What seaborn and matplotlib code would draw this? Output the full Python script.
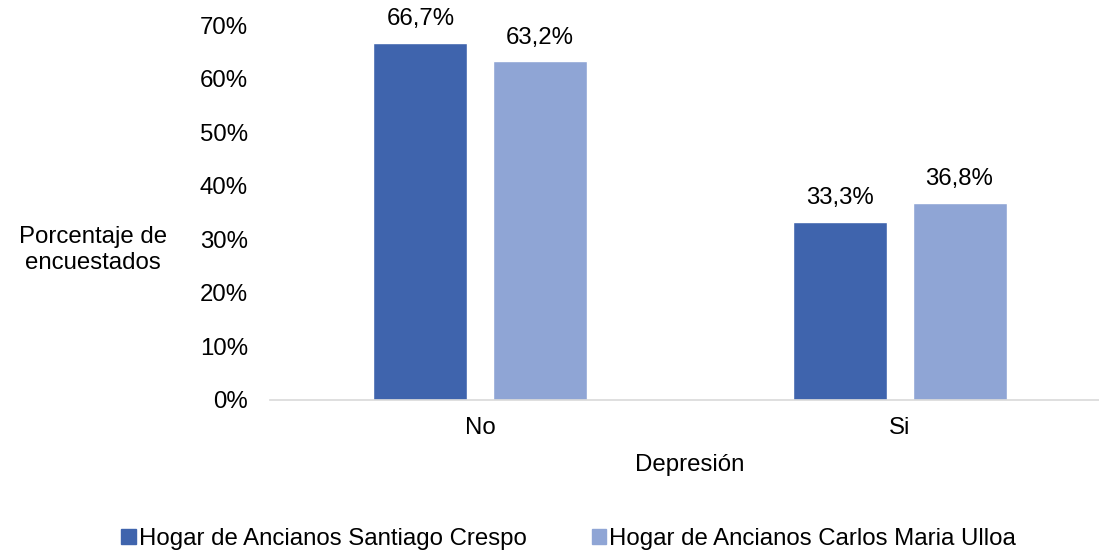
import pandas as pd
import matplotlib
matplotlib.use('Agg')
import matplotlib.pyplot as plt
import seaborn as sns
from matplotlib.patches import Patch

categories = ['No', 'Si']
hogares = ['Hogar de Ancianos Santiago Crespo', 'Hogar de Ancianos Carlos Maria Ulloa']
santiago = [66.7, 33.3]
carlos = [63.2, 36.8]
colors = ['#3F64AD', '#8FA5D5']

df = pd.DataFrame({
    'depresion': categories * 2,
    'hogar': [hogares[0]] * 2 + [hogares[1]] * 2,
    'pct': santiago + carlos,
})

sns.set_style('white')
plt.rcParams['font.family'] = ['Liberation Sans', 'DejaVu Sans']
plt.rcParams['text.color'] = 'black'
fs = 17.3

fig = plt.figure(figsize=(10.99, 5.52), dpi=100)
ax = fig.add_axes([270 / 1099, 152 / 552, 840 / 1099, 375 / 552])

sns.barplot(data=df, x='depresion', y='pct', hue='hogar', order=categories,
            hue_order=hogares, palette=colors, width=0.567, gap=0.21,
            saturation=1, ax=ax, legend=False)

for cont in ax.containers:
    ax.bar_label(cont, labels=[f'{v:.1f}%'.replace('.', ',') for v in cont.datavalues],
                 padding=9, fontsize=fs, color='black')

ax.set_ylim(0, 70)
ax.set_xlim(-0.5, 1.5)
ax.set_yticks(range(0, 71, 10))
ax.set_yticklabels([f'{v}%' for v in range(0, 71, 10)])
ax.tick_params(axis='x', labelsize=fs, pad=12, length=0, labelcolor='black')
ax.tick_params(axis='y', labelsize=fs, length=0, pad=16, labelcolor='black')
for s in ['top', 'right', 'left']:
    ax.spines[s].set_visible(False)
ax.spines['bottom'].set_color('#d9d9d9')
ax.spines['bottom'].set_linewidth(1.2)

ax.set_xlabel('Depresión', fontsize=fs, color='black')
ax.xaxis.set_label_coords((690 - 270) / 840, -0.145)
ax.set_ylabel('')
fig.text(93 / 1099, 1 - 250 / 552, 'Porcentaje de\nencuestados', fontsize=fs,
         ha='center', va='center', linespacing=1.2)

handles = [Patch(color=c, label=h) for c, h in zip(colors, hogares)]
fig.legend(handles=handles, loc='center left', bbox_to_anchor=(121 / 1099, 1 - 539 / 552),
           ncol=2, frameon=False, fontsize=fs, handlelength=0.62, handleheight=0.62,
           handletextpad=0.12, columnspacing=2.7, borderpad=0, borderaxespad=0)

fig.savefig('out.png', dpi=100)
